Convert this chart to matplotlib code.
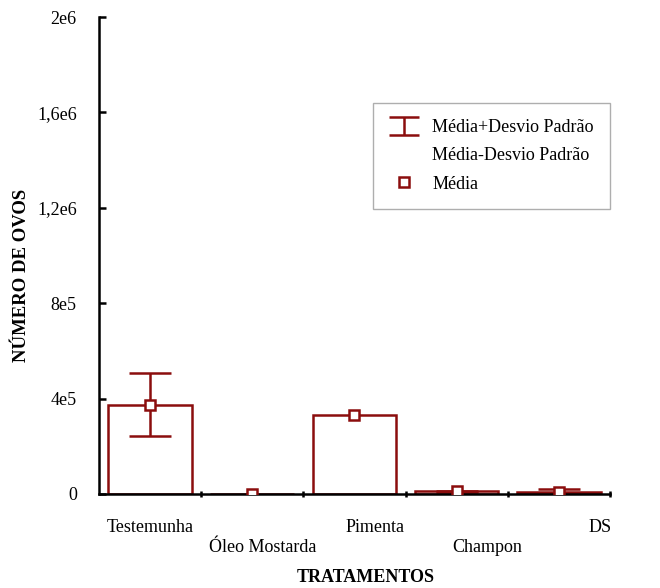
import numpy as np
import matplotlib
matplotlib.use('Agg')
import matplotlib.pyplot as plt
from matplotlib.lines import Line2D

plt.rcParams['font.family'] = ['Liberation Serif', 'DejaVu Serif']

# data
tratamentos = ['Testemunha', 'Óleo Mostarda', 'Pimenta', 'Champon', 'DS']
media = [375000, 500, 330000, 11000, 6000]          # mean number of eggs
desvio = [133000, 0, 0, 1500, 14000]                # standard deviation
y_ticks = [0, 4e5, 8e5, 1.2e6, 1.6e6, 2e6]
y_tick_labels = ['0', '4e5', '8e5', '1,2e6', '1,6e6', '2e6']

red = '#8b0d0d'
lw = 1.8

fig = plt.figure(figsize=(6.6, 5.88), dpi=100)
ax = fig.add_axes([0.15, 0.16, 0.774, 0.811])

x = np.arange(len(tratamentos)) + 0.5
media = np.array(media)
desvio = np.array(desvio)
has_sd = desvio > 0

# bars, error bars and mean markers
ax.bar(x, media, width=0.82, facecolor='white', edgecolor=red, linewidth=lw, zorder=1)
ax.errorbar(x[has_sd], media[has_sd], yerr=desvio[has_sd], fmt='none', ecolor=red,
            elinewidth=lw, capsize=14.8, capthick=lw, zorder=2)
ax.plot(x, media, 's', mfc='white', mec=red, mew=lw, ms=7.5, zorder=3)

ax.set_xlim(0, len(tratamentos))
ax.set_ylim(0, 2e6)

# axes look
for s in ['top', 'right']:
    ax.spines[s].set_visible(False)
for s in ['left', 'bottom']:
    ax.spines[s].set_linewidth(lw)

ax.set_yticks(y_ticks)
ax.set_yticklabels(y_tick_labels)
ax.tick_params(axis='y', direction='in', length=5, width=lw, pad=16, labelsize=13)

# category boundaries as ticks, names as minor tick labels
ax.set_xticks(np.arange(1, len(tratamentos) + 1))
ax.set_xticklabels([])
ax.tick_params(axis='x', which='major', direction='inout', length=5, width=lw)
label_pos = 0.5 + np.arange(len(tratamentos)) * 1.1
ax.set_xticks(label_pos, minor=True)
ax.set_xticklabels([t if i % 2 == 0 else '\n' + t for i, t in enumerate(tratamentos)], minor=True)
ax.tick_params(axis='x', which='minor', length=0, pad=18, labelsize=13)

ax.set_ylabel('NÚMERO DE OVOS', fontsize=13.5, fontweight='bold')
ax.yaxis.set_label_coords(-0.135, 0.459)
ax.set_xlabel('TRATAMENTOS', fontsize=13, fontweight='bold')
ax.xaxis.set_label_coords(0.522, -0.157)

# legend (proxy handles)
eb = ax.errorbar([np.nan], [np.nan], yerr=[1.0], fmt='none', ecolor=red, elinewidth=lw,
                 capsize=11, capthick=lw)
blank = Line2D([], [], linestyle='none')
sq = Line2D([], [], linestyle='none', marker='s', mfc='white', mec=red, mew=lw, ms=7.5)
leg = ax.legend([eb, blank, sq],
                ['Média+Desvio Padrão', 'Média-Desvio Padrão', 'Média'],
                loc='upper left', bbox_to_anchor=(0.536, 0.82), borderaxespad=0,
                fontsize=13, fancybox=False, handlelength=1.7, handletextpad=0.7,
                borderpad=0.9, labelspacing=0.62)
leg.get_frame().set_edgecolor('#9a9a9a')
leg.get_frame().set_linewidth(1.0)

fig.savefig('out.png', dpi=100)
